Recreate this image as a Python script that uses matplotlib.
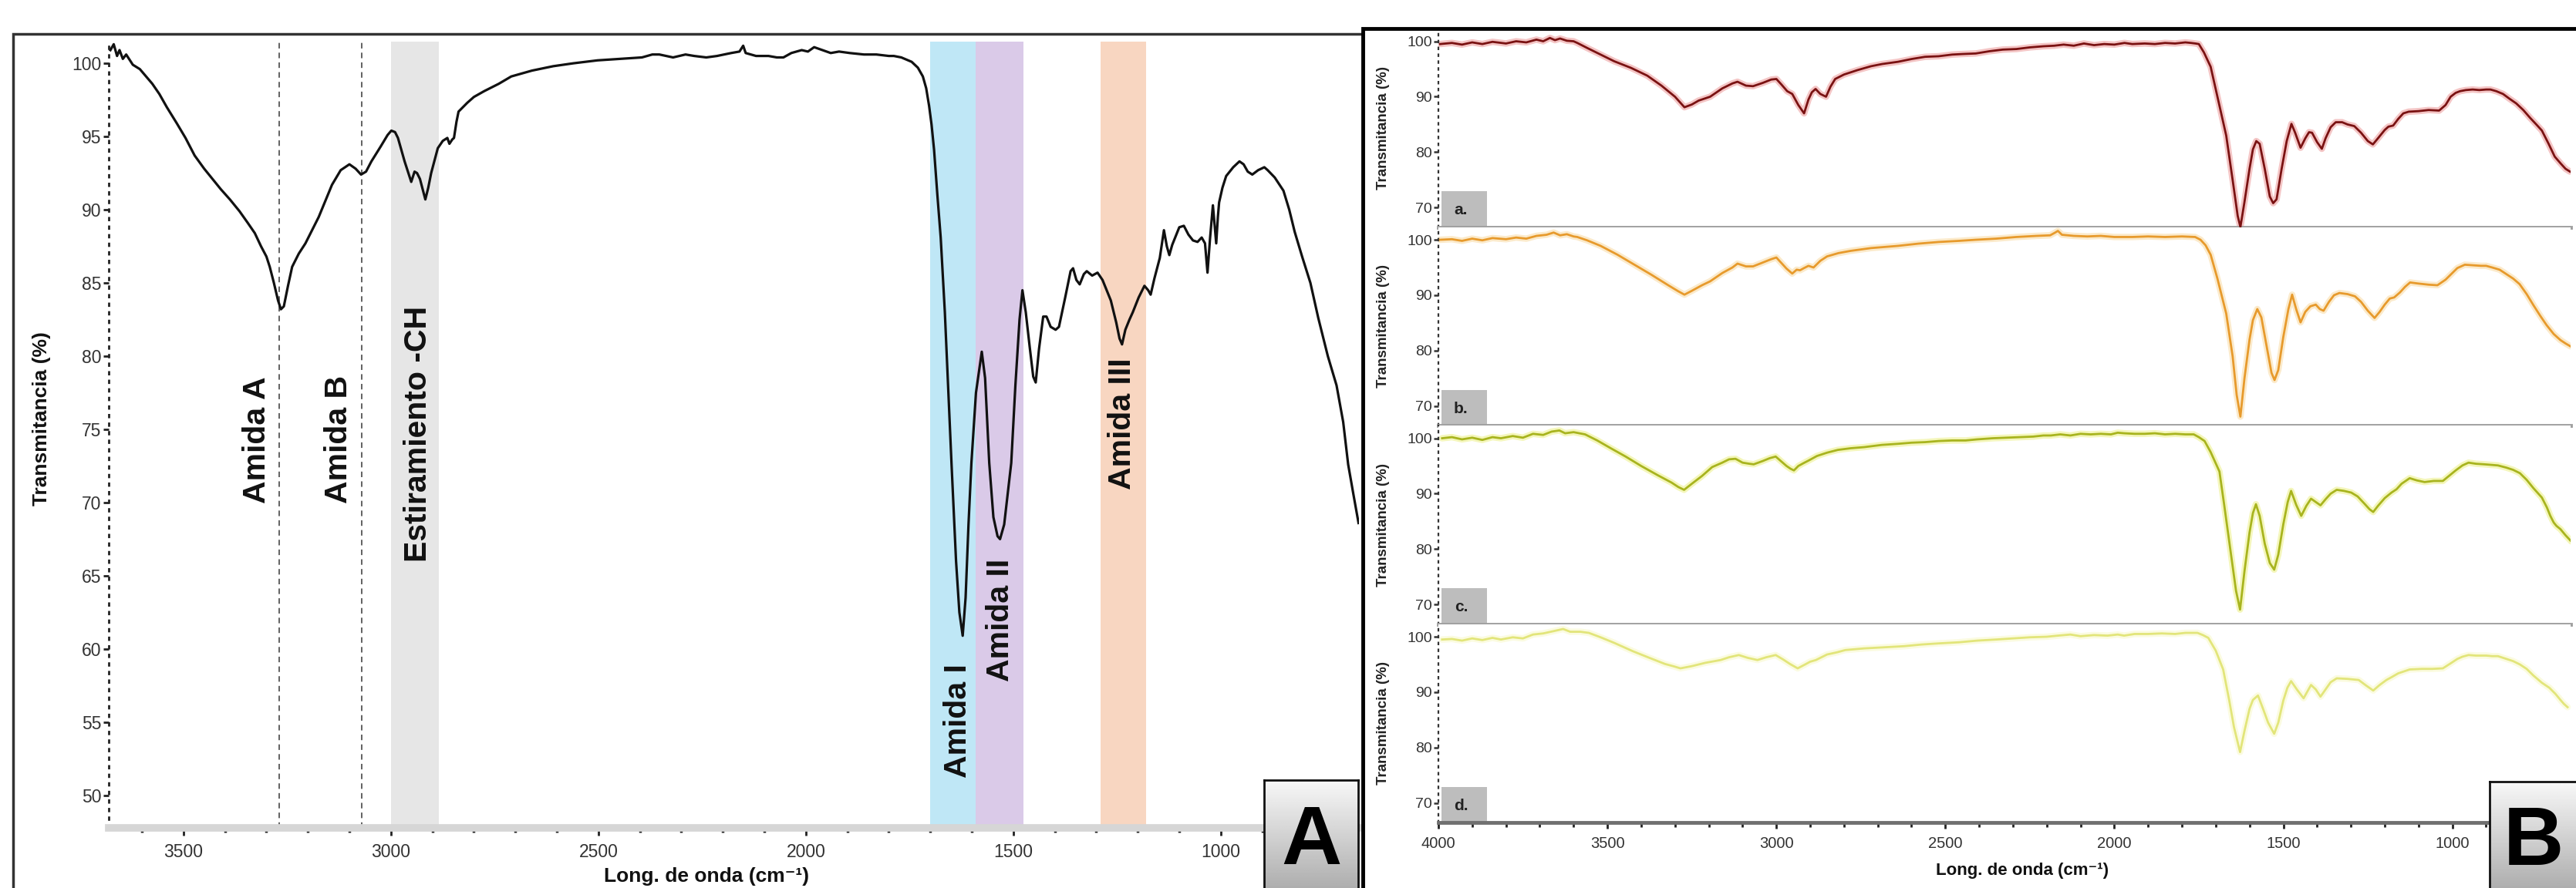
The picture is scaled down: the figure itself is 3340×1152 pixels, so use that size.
import numpy as np
import matplotlib
matplotlib.use("Agg")
import matplotlib.pyplot as plt
from matplotlib.patches import Rectangle
from matplotlib.ticker import MultipleLocator

plt.rcParams['font.family'] = ['Liberation Sans', 'DejaVu Sans']

# ---------------- Panel A : FTIR spectrum ----------------
aWave = [3676, 3668, 3660, 3654, 3646, 3638, 3622, 3605, 3590, 3575, 3558, 3540, 3516, 3495,
         3473, 3450, 3430, 3410, 3388, 3365, 3345, 3328, 3313, 3300, 3292, 3282, 3272, 3265,
         3258, 3248, 3238, 3222, 3206, 3190, 3174, 3158, 3142, 3121, 3100, 3085, 3072, 3060,
         3047, 3025, 3008, 2999, 2990, 2983, 2967, 2951, 2943, 2937, 2930, 2917, 2910, 2903,
         2887, 2875, 2864, 2859, 2852, 2848, 2842, 2837, 2816, 2800, 2775, 2740, 2710, 2660,
         2609, 2560, 2502, 2450, 2395, 2370, 2353, 2320, 2290, 2269, 2240, 2214, 2180, 2160,
         2151, 2145, 2120, 2090, 2070, 2054, 2035, 2010, 1995, 1980, 1960, 1940, 1920, 1894,
         1860, 1830, 1800, 1788, 1770, 1745, 1730, 1718, 1710, 1703, 1697, 1691, 1683, 1675,
         1665, 1655, 1649, 1638, 1630, 1622, 1615, 1608, 1601, 1590, 1576, 1568, 1558, 1548,
         1538, 1532, 1522, 1512, 1505, 1495, 1485, 1478, 1470, 1460, 1452, 1446, 1438, 1428,
         1420, 1410, 1398, 1390, 1375, 1362, 1356, 1348, 1340, 1330, 1323, 1310, 1297, 1285,
         1275, 1265, 1252, 1244, 1238, 1230, 1220, 1212, 1198, 1184, 1175, 1169, 1160, 1147,
         1137, 1130, 1124, 1117, 1110, 1100, 1089, 1078, 1067, 1056, 1046, 1038, 1032, 1026,
         1019, 1015, 1011, 1007, 1004, 996, 987, 970, 955, 945, 935, 924, 910, 895, 887, 870,
         849, 835, 822, 804, 784, 765, 742, 721, 705, 693, 680, 668]
aTrans = [100.9, 101.3, 100.5, 100.9, 100.3, 100.6, 99.9, 99.6, 99.1, 98.6, 97.9, 97.0, 95.9, 94.9,
          93.7, 92.8, 92.1, 91.4, 90.7, 89.9, 89.1, 88.4, 87.5, 86.8, 86.1, 85.0, 83.8, 83.2,
          83.4, 84.8, 86.1, 87.0, 87.7, 88.6, 89.5, 90.6, 91.7, 92.7, 93.1, 92.8, 92.4, 92.6,
          93.3, 94.3, 95.1, 95.4, 95.3, 94.9, 93.3, 91.9, 92.6, 92.5, 92.1, 90.7, 91.5, 92.5,
          94.2, 94.7, 94.9, 94.5, 94.8, 94.9, 96.0, 96.7, 97.3, 97.7, 98.1, 98.6, 99.1, 99.5,
          99.8, 100.0, 100.2, 100.3, 100.4, 100.6, 100.6, 100.4, 100.6, 100.5, 100.4, 100.5, 100.7, 100.8,
          101.2, 100.7, 100.5, 100.5, 100.4, 100.4, 100.7, 100.9, 100.8, 101.1, 100.9, 100.7, 100.8, 100.7,
          100.6, 100.6, 100.5, 100.5, 100.4, 100.1, 99.7, 99.1, 98.3, 97.1, 95.8, 94.1, 91.0, 88.1,
          83.0, 76.5, 72.7, 66.0, 62.5, 60.9, 63.5, 68.5, 72.7, 77.5, 80.3, 78.5, 72.7, 69.0,
          67.7, 67.5, 68.5, 71.0, 72.7, 78.0, 82.5, 84.5, 83.0, 80.5, 78.6, 78.2, 80.5, 82.7,
          82.7, 82.0, 81.8, 82.0, 84.0, 85.8, 86.0, 85.2, 84.9, 85.6, 85.8, 85.5, 85.7, 85.2,
          84.5, 83.8, 82.3, 81.2, 80.8, 81.8, 82.5, 83.0, 84.0, 84.8, 84.5, 84.2, 85.3, 86.7,
          88.6, 87.5, 86.9, 87.6, 88.1, 88.8, 88.9, 88.3, 87.9, 87.8, 88.1, 87.7, 85.7, 88.0,
          90.3, 89.0, 87.7, 89.5, 90.5, 91.5, 92.3, 92.9, 93.3, 93.1, 92.6, 92.4, 92.7, 92.9, 92.7, 92.2,
          91.3, 90.0, 88.5, 86.8, 85.0, 82.6, 80.0, 78.0, 75.5, 72.6, 70.5, 68.6]

bandStart = [3000, 1700, 1590, 1290]
bandEnd = [2885, 1590, 1475, 1180]
bandColors = ['#e6e6e6', '#bfe7f6', '#dacae8', '#f8d6c1']
dashedLines = [3270, 3070]
annotationLabels = ['Amida A', 'Amida B', 'Estiramiento -CH', 'Amida I', 'Amida II', 'Amida III']
annotationX = [3323, 3126, 2934, 1633, 1532, 1238]
annotationY = [74.3, 74.3, 74.7, 55.1, 62.0, 75.4]

# ---------------- Panel B : four samples ----------------
bWaveA = [3995, 3960, 3930, 3900, 3870, 3840, 3800, 3770, 3740, 3710, 3690, 3670, 3655, 3640, 3620,
          3600, 3589, 3560, 3520, 3480, 3430, 3382, 3340, 3300, 3272, 3250, 3230, 3196, 3160, 3130,
          3115, 3090, 3069, 3040, 3015, 3000, 2985, 2968, 2953, 2935, 2918, 2905, 2895, 2884, 2870,
          2853, 2840, 2826, 2800, 2760, 2720, 2687, 2640, 2600, 2560, 2520, 2480, 2450, 2410, 2370,
          2330, 2290, 2250, 2210, 2178, 2150, 2120, 2090, 2060, 2030, 2000, 1970, 1947, 1910, 1880,
          1850, 1820, 1790, 1773, 1760, 1750, 1735, 1715, 1695, 1669, 1650, 1635, 1627, 1615, 1600,
          1590, 1580, 1570, 1555, 1540, 1530, 1520, 1505, 1490, 1476, 1465, 1449, 1435, 1424, 1415,
          1400, 1386, 1375, 1360, 1345, 1326, 1310, 1290, 1270, 1250, 1235, 1220, 1200, 1189, 1175,
          1160, 1145, 1129, 1100, 1070, 1039, 1020, 1005, 990, 977, 960, 940, 920, 900, 887, 870,
          850, 830, 811, 790, 770, 750, 735, 715, 697, 680, 665, 652]
bTransA = [99.5, 99.7, 99.4, 99.8, 99.5, 99.9, 99.6, 100.0, 99.8, 100.3, 100.0, 100.6, 100.2, 100.5, 100.1,
           100.0, 99.7, 98.8, 97.6, 96.4, 95.2, 93.8, 92.0, 90.0, 88.1, 88.6, 89.3, 90.0, 91.5, 92.4,
           92.7, 92.0, 91.9, 92.5, 93.1, 93.2, 92.2, 91.0, 90.5, 88.5, 87.0, 89.5, 90.8, 91.4, 90.5,
           90.0, 91.8, 93.2, 94.0, 94.8, 95.5, 95.9, 96.3, 96.8, 97.2, 97.3, 97.6, 97.7, 97.8, 98.2,
           98.5, 98.6, 98.9, 99.1, 99.2, 99.4, 99.2, 99.6, 99.3, 99.5, 99.4, 99.7, 99.5, 99.6, 99.5,
           99.7, 99.6, 99.8, 99.7, 99.6, 99.5, 98.0, 95.4, 90.0, 83.0, 75.0, 68.5, 66.5, 71.0, 77.0,
           80.5, 82.0, 81.5, 77.0, 72.0, 70.8, 71.5, 77.0, 82.0, 85.1, 83.5, 80.8, 82.5, 83.6, 83.5,
           81.8, 80.6, 82.5, 84.5, 85.4, 85.4, 85.0, 84.7, 83.5, 82.0, 81.4, 82.5, 84.0, 84.6, 84.8,
           86.0, 87.0, 87.3, 87.4, 87.6, 87.5, 88.5, 90.0, 90.7, 91.0, 91.2, 91.3, 91.2, 91.3, 91.3, 91.0,
           90.5, 89.6, 88.8, 87.6, 86.2, 84.9, 83.9, 81.5, 79.2, 78.0, 77.0, 76.5]

bWaveB = [3995, 3960, 3930, 3900, 3870, 3840, 3800, 3770, 3740, 3710, 3680, 3659, 3640, 3620, 3600,
          3589, 3560, 3520, 3470, 3420, 3370, 3320, 3290, 3272, 3250, 3220, 3196, 3160, 3130, 3115,
          3090, 3069, 3040, 3015, 3000, 2985, 2970, 2953, 2940, 2930, 2918, 2905, 2890, 2870, 2850,
          2816, 2780, 2720, 2640, 2580, 2520, 2460, 2410, 2350, 2290, 2230, 2190, 2175, 2167, 2155,
          2120, 2080, 2040, 2000, 1947, 1900, 1850, 1800, 1761, 1745, 1730, 1715, 1695, 1669, 1650,
          1638, 1627, 1615, 1600, 1590, 1577, 1565, 1550, 1535, 1526, 1515, 1500, 1485, 1474, 1462,
          1449, 1435, 1420, 1404, 1392, 1381, 1365, 1350, 1334, 1310, 1288, 1270, 1250, 1230, 1215,
          1200, 1185, 1172, 1155, 1140, 1125, 1100, 1070, 1044, 1020, 1000, 985, 963, 940, 915, 900,
          882, 860, 840, 820, 801, 780, 760, 740, 721, 700, 680, 665, 651]
bTransB = [100.0, 100.1, 99.8, 100.2, 99.9, 100.3, 100.1, 100.4, 100.2, 100.7, 100.9, 101.3, 100.8, 101.0, 100.6,
           100.5, 99.9, 98.9, 97.3, 95.5, 93.7, 91.8, 90.7, 90.1, 90.8, 91.8, 92.5, 94.0, 95.0, 95.7,
           95.2, 95.2, 95.9, 96.5, 96.8, 95.8, 94.8, 93.9, 94.6, 94.5, 94.9, 95.3, 95.0, 96.2, 97.0,
           97.6, 98.0, 98.5, 98.9, 99.3, 99.6, 99.8, 100.0, 100.2, 100.5, 100.7, 100.8, 101.3, 101.6, 100.9,
           100.7, 100.6, 100.7, 100.5, 100.5, 100.6, 100.5, 100.6, 100.5, 100.0, 99.0, 97.3, 93.0, 86.7, 79.0,
           72.0, 68.1, 75.0, 82.0, 85.5, 87.5, 86.0, 81.0, 76.0, 74.7, 76.5, 82.5, 87.5, 90.1, 87.5,
           85.1, 87.0, 88.0, 88.3, 87.5, 87.2, 88.8, 90.0, 90.4, 90.2, 89.8, 88.8, 87.2, 85.9, 87.0,
           88.3, 89.4, 89.6, 90.5, 91.5, 92.3, 92.1, 91.9, 91.8, 92.8, 94.0, 94.9, 95.5, 95.4, 95.3, 95.3,
           95.0, 94.6, 93.8, 93.0, 92.0, 90.2, 88.2, 86.3, 84.6, 83.0, 81.9, 81.3, 80.8]

bWaveC = [3989, 3960, 3930, 3900, 3870, 3840, 3815, 3780, 3750, 3720, 3690, 3665, 3642, 3625, 3600,
          3566, 3530, 3490, 3446, 3400, 3350, 3310, 3290, 3273, 3250, 3220, 3190, 3160, 3140, 3121,
          3100, 3080, 3067, 3040, 3020, 3002, 2985, 2970, 2958, 2948, 2935, 2920, 2904, 2880, 2850,
          2818, 2780, 2740, 2688, 2640, 2600, 2560, 2520, 2480, 2440, 2406, 2360, 2320, 2280, 2240,
          2210, 2188, 2160, 2130, 2100, 2070, 2040, 2010, 1990, 1971, 1940, 1910, 1880, 1850, 1820,
          1790, 1765, 1750, 1733, 1715, 1700, 1689, 1675, 1657, 1640, 1628, 1615, 1600, 1590, 1581,
          1570, 1555, 1540, 1527, 1515, 1500, 1487, 1477, 1462, 1447, 1432, 1418, 1404, 1390, 1375,
          1360, 1342, 1320, 1299, 1280, 1260, 1245, 1234, 1220, 1200, 1180, 1165, 1150, 1126, 1105,
          1082, 1055, 1028, 1010, 990, 970, 952, 930, 905, 885, 865, 840, 820, 800, 780, 760, 735,
          720, 710, 700, 692, 680, 665, 648]
bTransC = [100.0, 100.2, 99.8, 100.1, 99.7, 100.2, 100.0, 100.4, 100.1, 100.8, 100.6, 101.2, 101.4, 100.9, 101.1,
           100.7, 99.6, 98.2, 96.7, 95.0, 93.3, 92.0, 91.2, 90.7, 91.8, 93.2, 94.8, 95.6, 96.2, 96.3,
           95.6, 95.4, 95.3, 95.9, 96.4, 96.7, 95.8, 95.0, 94.5, 94.2, 95.0, 95.5, 96.0, 96.8, 97.4,
           97.9, 98.2, 98.4, 98.8, 99.0, 99.2, 99.3, 99.5, 99.6, 99.6, 99.8, 100.0, 100.1, 100.2, 100.3,
           100.5, 100.5, 100.7, 100.5, 100.8, 100.7, 100.8, 100.7, 101.0, 100.9, 100.8, 100.8, 100.9, 100.7, 100.8,
           100.7, 100.7, 100.2, 99.5, 97.5, 95.5, 94.0, 88.0, 80.0, 72.5, 69.1, 76.0, 83.0, 86.5, 88.1,
           86.0, 81.0, 77.5, 76.3, 79.0, 84.5, 88.5, 90.5, 88.0, 86.0, 87.8, 89.1, 88.5, 87.9, 89.0,
           90.0, 90.7, 90.5, 90.2, 89.5, 88.2, 87.2, 86.7, 87.8, 89.2, 90.2, 90.8, 91.8, 92.8, 92.4,
           92.1, 92.3, 92.3, 93.2, 94.2, 95.1, 95.6, 95.4, 95.3, 95.2, 95.1, 94.7, 94.3, 93.7, 92.5, 91.0, 89.3,
           87.5, 86.0, 84.8, 84.2, 83.6, 82.5, 81.4]

bWaveD = [3989, 3960, 3930, 3900, 3870, 3840, 3815, 3780, 3750, 3720, 3690, 3660, 3631, 3610, 3580,
          3555, 3520, 3480, 3425, 3380, 3330, 3300, 3284, 3250, 3210, 3165, 3140, 3111, 3085, 3056,
          3030, 3002, 2980, 2960, 2937, 2915, 2900, 2883, 2850, 2820, 2796, 2740, 2680, 2622, 2570,
          2520, 2460, 2406, 2350, 2300, 2250, 2200, 2167, 2130, 2100, 2060, 2020, 1990, 1971, 1940,
          1900, 1860, 1820, 1790, 1754, 1738, 1722, 1700, 1678, 1660, 1646, 1628, 1615, 1600, 1590,
          1575, 1560, 1545, 1527, 1515, 1500, 1488, 1477, 1460, 1440, 1430, 1418, 1404, 1390, 1375,
          1360, 1342, 1310, 1277, 1255, 1234, 1215, 1195, 1180, 1160, 1126, 1090, 1060, 1028, 1005,
          985, 970, 952, 930, 900, 882, 865, 845, 820, 800, 780, 760, 735, 713, 695, 680, 670, 659]
bTransD = [99.5, 99.6, 99.3, 99.7, 99.4, 99.8, 99.5, 99.9, 99.7, 100.4, 100.6, 101.0, 101.4, 100.9, 100.9,
           100.7, 99.9, 98.9, 97.4, 96.3, 95.1, 94.6, 94.3, 94.7, 95.3, 95.8, 96.3, 96.7, 96.2, 95.8,
           96.3, 96.7, 95.9, 95.1, 94.3, 95.0, 95.5, 95.8, 96.8, 97.2, 97.6, 97.9, 98.1, 98.3, 98.6,
           98.8, 99.0, 99.3, 99.5, 99.7, 99.9, 100.0, 100.2, 100.4, 100.1, 100.3, 100.2, 100.4, 100.2, 100.5,
           100.5, 100.6, 100.5, 100.7, 100.7, 100.3, 99.8, 97.5, 94.1, 88.5, 83.7, 79.2, 83.0, 87.0, 88.6,
           89.4, 87.0, 84.5, 82.5, 84.5, 88.5, 90.8, 92.0, 90.5, 88.9, 90.0, 91.3, 90.5, 89.2, 90.5,
           91.8, 92.5, 92.4, 92.2, 91.2, 90.3, 91.3, 92.2, 92.7, 93.4, 94.1, 94.2, 94.2, 94.3, 95.2,
           96.0, 96.4, 96.7, 96.6, 96.6, 96.5, 96.5, 96.1, 95.6, 95.0, 94.2, 93.0, 91.7, 90.8, 89.7, 88.6, 87.9, 87.3]

sampleLabels = ['a.', 'b.', 'c.', 'd.']
sampleColors = ['#7a1212', '#e79a2c', '#a8b41e', '#e2e57a']
glowColors = ['#e05a5a', '#f6c56a', '#e2e83e', '#f4f6a8']

FIG_W, FIG_H = 3340, 1152


def figRect(left, top, right, bottom):
    return [left / FIG_W, 1 - bottom / FIG_H, (right - left) / FIG_W, (bottom - top) / FIG_H]


def drawLetterBox(fig, rect, letter):
    boxAx = fig.add_axes(rect)
    gradient = np.linspace(0.97, 0.68, 100).reshape(-1, 1)
    boxAx.imshow(gradient, aspect='auto', cmap='gray', vmin=0, vmax=1, extent=[0, 1, 0, 1])
    boxAx.set_xticks([])
    boxAx.set_yticks([])
    for spine in boxAx.spines.values():
        spine.set_linewidth(2)
        spine.set_color('#111')
    boxAx.text(0.5, 0.43, letter, ha='center', va='center', fontsize=78,
               fontweight='bold', color='black', transform=boxAx.transAxes)


def plotPanelA(fig):
    ax = fig.add_axes(figRect(141, 53.6, 1762, 1073.6))
    ax.set_xlim(3680, 667)
    ax.set_ylim(47.8, 101.5)

    for start, end, color in zip(bandStart, bandEnd, bandColors):
        ax.axvspan(end, start, color=color, lw=0, zorder=0)
    for xPos in dashedLines:
        ax.axvline(xPos, color='#555555', lw=1.3, ls=(0, (4, 3)), zorder=1)

    ax.plot(aWave, aTrans, color='#111111', lw=2.3, zorder=3)

    for label, xPos, yPos in zip(annotationLabels, annotationX, annotationY):
        ax.text(xPos, yPos, label, rotation=90, ha='center', va='center',
                fontsize=29.5, fontweight='bold', color='#111', zorder=4)

    ax.spines['top'].set_visible(False)
    ax.spines['right'].set_visible(False)
    ax.spines['left'].set_linestyle((0, (1, 3)))
    ax.spines['left'].set_linewidth(2)
    ax.spines['left'].set_color('#222')
    ax.spines['bottom'].set_color('#d6d6d6')
    ax.spines['bottom'].set_linewidth(7)

    ax.xaxis.set_major_locator(MultipleLocator(500))
    ax.xaxis.set_minor_locator(MultipleLocator(100))
    ax.yaxis.set_major_locator(MultipleLocator(5))
    ax.yaxis.set_minor_locator(MultipleLocator(1))
    ax.tick_params(axis='x', which='major', length=7, width=2, color='#222',
                   labelsize=16.5, labelcolor='#333', pad=8)
    ax.tick_params(axis='x', which='minor', length=4, width=2.5, color='#222')
    ax.tick_params(axis='y', which='major', length=5, width=2, color='#222',
                   labelsize=16.5, labelcolor='#333', pad=2)
    ax.tick_params(axis='y', which='minor', length=0)

    ax.set_xlabel('Long. de onda (cm⁻¹)', fontsize=19, fontweight='bold', color='#111')
    ax.xaxis.set_label_coords(0.478, -0.05)
    ax.set_ylabel('Transmitancia (%)', fontsize=19, fontweight='bold', color='#111')
    ax.yaxis.set_label_coords(-0.046, 0.52)


def plotPanelB(fig):
    waves = [bWaveA, bWaveB, bWaveC, bWaveD]
    trans = [bTransA, bTransB, bTransC, bTransD]
    top, bottom = 37, 1067
    step = (bottom - top) / 4

    for i in range(4):
        pTop = top + i * step
        ax = fig.add_axes(figRect(1865, pTop, 3333, pTop + step))
        ax.set_xlim(4000, 650)
        ax.set_ylim(66.5, 102.3)

        ax.plot(waves[i], trans[i], color=glowColors[i], lw=6, alpha=0.35,
                solid_capstyle='round', zorder=2)
        ax.plot(waves[i], trans[i], color=sampleColors[i], lw=2.0, zorder=3)

        ax.add_patch(Rectangle((0.003, 0.0), 0.040, 0.18, transform=ax.transAxes,
                               facecolor='#bdbdbd', edgecolor='none', zorder=1))
        ax.text(0.02, 0.085, sampleLabels[i], transform=ax.transAxes, ha='center',
                va='center', fontsize=15, fontweight='bold', color='#222', zorder=4)

        ax.spines['top'].set_visible(False)
        ax.spines['right'].set_visible(False)
        ax.spines['left'].set_linestyle((0, (1, 3)))
        ax.spines['left'].set_linewidth(1.6)
        ax.spines['left'].set_color('#333')

        ax.yaxis.set_major_locator(MultipleLocator(10))
        ax.yaxis.set_minor_locator(MultipleLocator(2))
        ax.set_yticks([70, 80, 90, 100])
        ax.tick_params(axis='y', which='major', length=4, width=1.8, color='#333',
                       labelsize=14, labelcolor='#333', pad=2)
        ax.tick_params(axis='y', which='minor', length=0)
        ax.set_ylabel('Transmitancia (%)', fontsize=13.5, fontweight='bold', color='#222')
        ax.yaxis.set_label_coords(-0.043, 0.5)

        if i < 3:
            ax.spines['bottom'].set_color('#a0a0a0')
            ax.spines['bottom'].set_linewidth(3.5)
            ax.tick_params(axis='x', which='both', bottom=False, labelbottom=False)
        else:
            ax.spines['bottom'].set_color('#707070')
            ax.spines['bottom'].set_linewidth(3.5)
            ax.xaxis.set_major_locator(MultipleLocator(500))
            ax.xaxis.set_minor_locator(MultipleLocator(100))
            ax.tick_params(axis='x', which='major', length=6, width=2, color='#222',
                           labelsize=14.5, labelcolor='#333', pad=7)
            ax.tick_params(axis='x', which='minor', length=4, width=2, color='#222')
            ax.set_xlabel('Long. de onda (cm⁻¹)', fontsize=16, fontweight='bold', color='#111')
            ax.xaxis.set_label_coords(0.516, -0.2)


def main():
    fig = plt.figure(figsize=(33.4, 11.52), dpi=100)
    fig.patch.set_facecolor('white')

    plotPanelA(fig)
    plotPanelB(fig)

    # outer frames of both panels
    fig.add_artist(Rectangle((17 / FIG_W, -0.02), (1767 - 17) / FIG_W, 1 - 44 / FIG_H + 0.02,
                             transform=fig.transFigure, fill=False, edgecolor='#333', lw=2.5))
    fig.add_artist(Rectangle((1767 / FIG_W, -0.02), 0.5, 1 - 37 / FIG_H + 0.02,
                             transform=fig.transFigure, fill=False, edgecolor='black', lw=3.5))

    drawLetterBox(fig, figRect(1639, 1012, 1761, 1154), 'A')
    drawLetterBox(fig, figRect(3228, 1014, 3342, 1154), 'B')

    fig.savefig('out.png', dpi=100)


if __name__ == '__main__':
    main()
